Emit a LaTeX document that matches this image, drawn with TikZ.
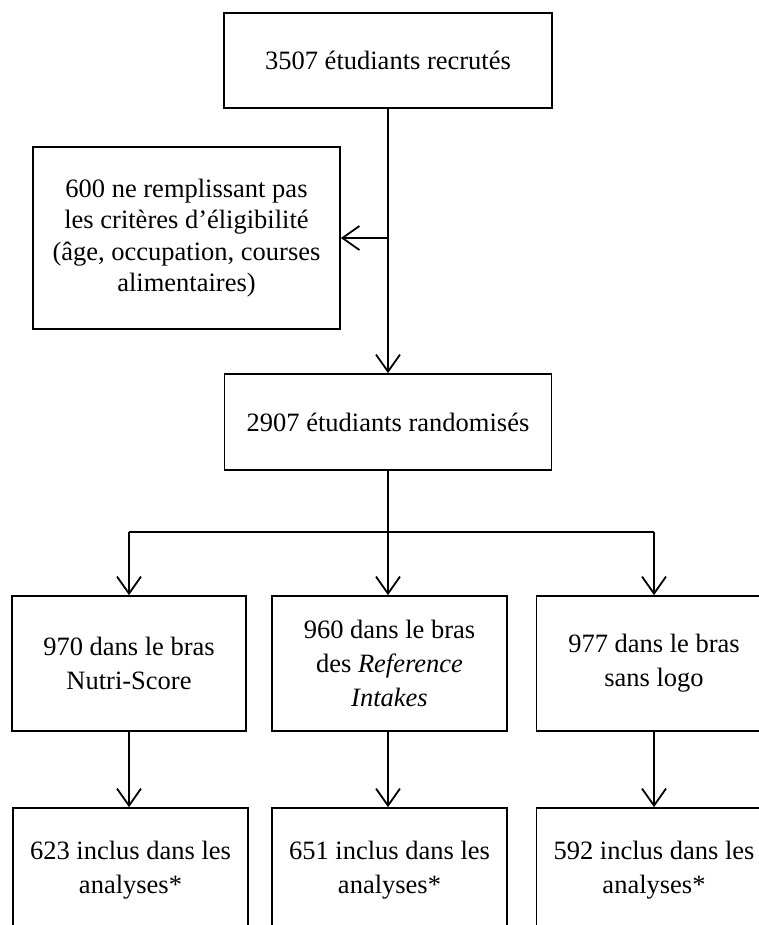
\documentclass[tikz,border=0pt]{standalone}
\usepackage{fontspec}
\setmainfont{Liberation Serif}
\usetikzlibrary{arrows.meta}
\begin{document}
\begin{tikzpicture}[x=1pt,y=-1pt,
  box/.style={draw, line width=1.7pt, align=center, inner sep=0pt},
  txtA/.style={font=\fontsize{26.5}{31.5}\selectfont},
  txtB/.style={font=\fontsize{26.5}{34}\selectfont},
  link/.style={line width=1.8pt},
  arr/.style={line width=1.8pt, -{Straight Barb[length=17pt,width=24pt]}}]
\useasboundingbox (0,0) rectangle (759,925);
\clip (0,0) rectangle (759,925);
\node[box, txtA, minimum width=328pt, minimum height=95pt] (top) at (388,60.5) {3507 étudiants recrutés};
\node[box, txtA, minimum width=307pt, minimum height=182pt] (excl) at (186.5,238) {600 ne remplissant pas\\les critères d’éligibilité\\(âge, occupation, courses\\alimentaires)};
\node[box, txtA, minimum width=327pt, minimum height=96pt] (rand) at (388,422) {2907 étudiants randomisés};
\node[box, txtB, minimum width=234pt, minimum height=135pt] (a1) at (129,663.5) {970 dans le bras\\Nutri-Score};
\node[box, txtB, minimum width=235pt, minimum height=135pt] (a2) at (389.5,663.5) {960 dans le bras\\des \textit{Reference}\\\textit{Intakes}};
\node[box, txtB, minimum width=235pt, minimum height=135pt] (a3) at (654,663.5) {977 dans le bras\\sans logo};
\node[box, txtB, minimum width=235pt, minimum height=124pt] (b1) at (130.5,870) {623 inclus dans les\\analyses*};
\node[box, txtB, minimum width=235pt, minimum height=124pt] (b2) at (389.5,870) {651 inclus dans les\\analyses*};
\node[box, txtB, minimum width=235pt, minimum height=124pt] (b3) at (654,870) {592 inclus dans les\\analyses*};
\coordinate (br) at (388,532);
\draw[arr] (top.south) -- (rand.north);
\draw[arr] (top.south |- excl.east) -- (excl.east);
\draw[link] (rand.south) -- (br);
\draw[link] (br -| a1.north) -- (br -| a3.north);
\draw[arr] (br -| a1.north) -- (a1.north);
\draw[arr] (br) -- (br |- a2.north);
\draw[arr] (br -| a3.north) -- (a3.north);
\draw[arr] (a1.south) -- (b1.north -| a1.south);
\draw[arr] (a2.south -| br) -- (b2.north -| br);
\draw[arr] (a3.south) -- (b3.north -| a3.south);
\end{tikzpicture}
\end{document}
